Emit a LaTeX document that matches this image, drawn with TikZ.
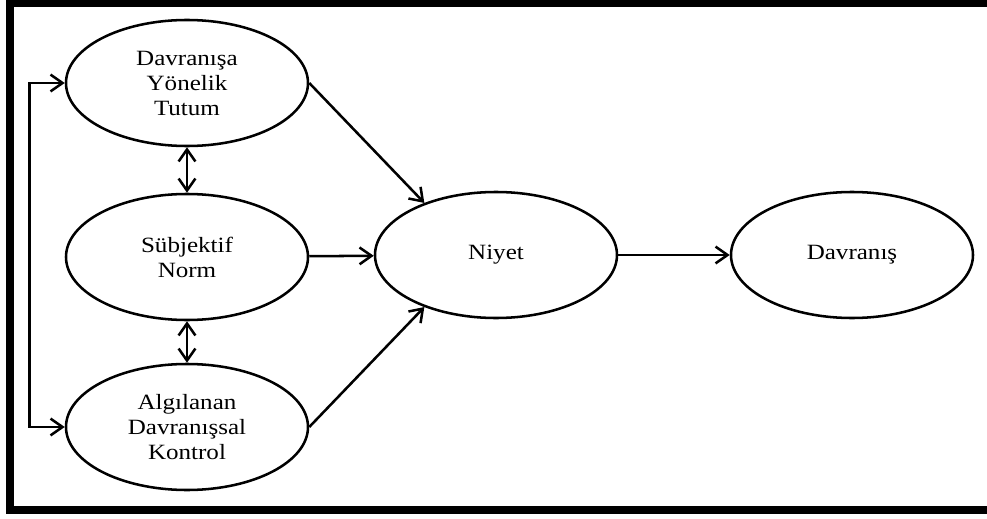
\documentclass[tikz,border=0pt]{standalone}
\usepackage{fontspec}
\setmainfont{Liberation Serif}[FakeStretch=1.15]
\usetikzlibrary{shapes.geometric,arrows.meta}

\tikzset{
    construct/.style={ellipse,draw,line width=1.8pt,minimum width=6.05cm,minimum height=3.15cm,
        inner sep=0pt,align=center,font=\fontsize{15.5}{17.8}\selectfont},
    link/.style={line width=1.8pt,-{Straight Barb[length=3mm,width=4.2mm]}},
    twoway/.style={line width=1.8pt,{Straight Barb[length=3mm,width=4.2mm]}-{Straight Barb[length=3mm,width=4.2mm]}}
}

\begin{document}
\begin{tikzpicture}
    \useasboundingbox (0,0) rectangle (24.675,12.95);
    \clip (0,0) rectangle (24.675,12.95);

    % Frame
    \draw[line width=0.2cm] (25.5,12.8625) -- (0.25,12.8625) -- (0.25,0.2) -- (25.5,0.2);

    % Constructs
    \node[construct] (tutum) at (4.675,10.875) {Davranışa\\Yönelik\\Tutum};
    \node[construct] (norm) at (4.675,6.525) {Sübjektif\\Norm};
    \node[construct] (kontrol) at (4.675,2.275) {Algılanan\\Davranışsal\\Kontrol};
    \node[construct] (niyet) at (12.4,6.575) {Niyet};
    \node[construct] (davranis) at (21.3,6.575) {Davranış};

    % Correlations
    \draw[twoway] (tutum.west) -- ++(-0.875,0) |- (kontrol.west);
    \draw[twoway] (tutum) -- (norm);
    \draw[twoway] (norm) -- (kontrol);

    % Paths
    \draw[link] (tutum.east) -- (niyet.144);
    \draw[link] (norm) -- (niyet);
    \draw[link] (kontrol.east) -- (niyet.216);
    \draw[link] (niyet) -- (davranis);
\end{tikzpicture}
\end{document}
